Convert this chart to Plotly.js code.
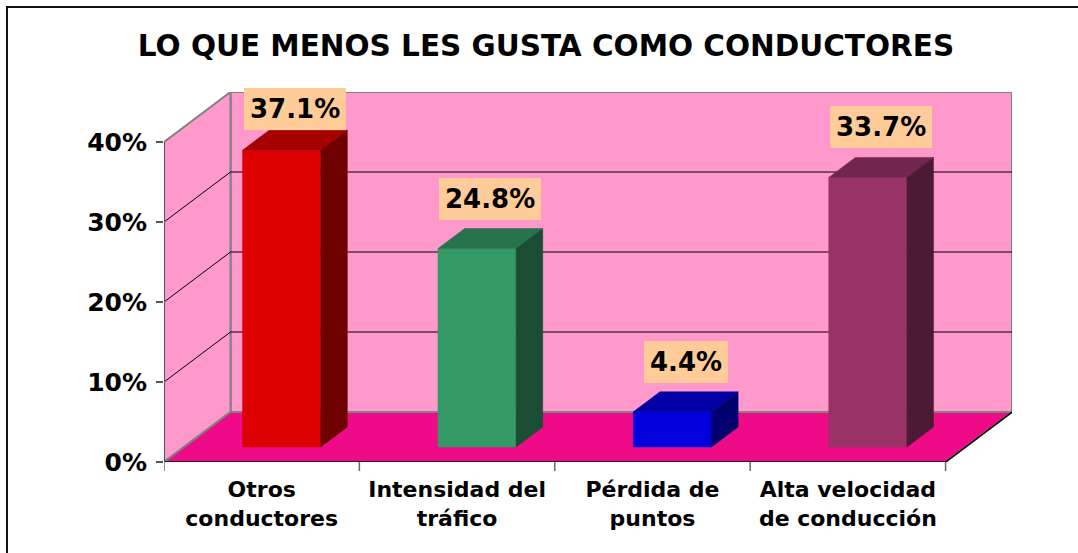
<!DOCTYPE html>
<html>
<head>
<meta charset="utf-8">
<script src="https://cdn.plot.ly/plotly-3.0.1.min.js"></script>
<style>
  html, body { margin: 0; padding: 0; background: #ffffff; }
  #chart { width: 1078px; height: 553px; }
</style>
</head>
<body>
<div id="chart"></div>
<script>
// ---- data ----
const categories = ['Otros<br>conductores', 'Intensidad del<br>tráfico', 'Pérdida de<br>puntos', 'Alta velocidad<br>de conducción'];
const values = [37.1, 24.8, 4.4, 33.7];
const valueLabels = ['37.1%', '24.8%', '4.4%', '33.7%'];
const yTickVals = [0, 10, 20, 30, 40];
const yTickText = ['0%', '10%', '20%', '30%', '40%'];
const frontColors = ['#DD0000', '#339966', '#0000DD', '#993366'];
const topColors = ['#A60000', '#26734D', '#0000A6', '#73264D'];
const sideColors = ['#6E0000', '#1A4D33', '#00006E', '#4D1A33'];

// ---- geometry (3D projection in axis units) ----
const DX = 0.3404;   // x shift for full depth
const DY = 6.25;     // y shift for full depth
const D0 = 0.3, D1 = 0.7, BW = 0.4;
const XMIN = -0.5, XMAX = 3.84, YMAX = 46.25;
const nCat = categories.length;
const FONT = 'DejaVu Sans, Verdana, sans-serif';

const traces = [];
values.forEach((v, i) => {
  const x0 = i - BW / 2 + D0 * DX, x1 = i + BW / 2 + D0 * DX;
  const y0 = D0 * DY, y1 = v + D0 * DY;
  const ddx = (D1 - D0) * DX, ddy = (D1 - D0) * DY;
  const face = (xs, ys, c) => ({
    type: 'scatter', mode: 'lines', x: xs, y: ys, fill: 'toself',
    fillcolor: c, line: { color: c, width: 0.5 }, hoverinfo: 'skip', showlegend: false
  });
  traces.push(face([x0, x1, x1, x0, x0], [y0, y0, y1, y1, y0], frontColors[i]));
  traces.push(face([x0, x1, x1 + ddx, x0 + ddx, x0], [y1, y1, y1 + ddy, y1 + ddy, y1], topColors[i]));
  traces.push(face([x1, x1 + ddx, x1 + ddx, x1, x1], [y0, y0 + ddy, y1 + ddy, y1, y0], sideColors[i]));
});

const shapes = [];
// back wall
shapes.push({ type: 'rect', xref: 'x', yref: 'y', x0: XMIN + DX, x1: XMAX, y0: DY, y1: 40 + DY,
  fillcolor: '#FF99CC', line: { color: '#808080', width: 2 }, layer: 'below' });
// left wall
shapes.push({ type: 'path', xref: 'x', yref: 'y',
  path: `M ${XMIN},0 L ${XMIN + DX},${DY} L ${XMIN + DX},${40 + DY} L ${XMIN},40 Z`,
  fillcolor: '#FF99CC', line: { color: '#808080', width: 2 }, layer: 'below' });
// floor
shapes.push({ type: 'path', xref: 'x', yref: 'y',
  path: `M ${XMIN},0 L ${XMIN + nCat},0 L ${XMIN + nCat + DX},${DY} L ${XMIN + DX},${DY} Z`,
  fillcolor: '#EF0A88', line: { color: '#808080', width: 2 }, layer: 'below' });
// gridlines
yTickVals.slice(1, -1).forEach(v => {
  shapes.push({ type: 'path', xref: 'x', yref: 'y',
    path: `M ${XMIN},${v} L ${XMIN + DX},${v + DY} L ${XMAX},${v + DY}`,
    line: { color: '#000000', width: 1 }, layer: 'below' });
});
// floor front and right edges
shapes.push({ type: 'path', xref: 'x', yref: 'y',
  path: `M ${XMIN},0 L ${XMIN + nCat},0 L ${XMIN + nCat + DX},${DY}`,
  line: { color: '#000000', width: 1.5 }, layer: 'above' });
// y axis line
shapes.push({ type: 'line', xref: 'x', yref: 'y', x0: XMIN, x1: XMIN, y0: 0, y1: 40,
  line: { color: '#555555', width: 2 }, layer: 'above' });
// category boundary ticks
for (let k = 0; k <= nCat; k++) {
  shapes.push({ type: 'line', xref: 'x', yref: 'paper', x0: XMIN + k, x1: XMIN + k, y0: 0, y1: -9 / 370,
    line: { color: '#666666', width: 1.5 }, layer: 'above' });
}
// outer frame
shapes.push({ type: 'rect', xref: 'paper', yref: 'paper',
  x0: (7 - 164) / 848, x1: (1095 - 164) / 848, y0: (462 - 570) / 370, y1: (462 - 7) / 370,
  line: { color: '#111111', width: 2 }, fillcolor: 'rgba(0,0,0,0)' });

const annotations = values.map((v, i) => ({
  xref: 'x', yref: 'y',
  x: i + ((D0 + D1) / 2) * DX,
  y: Math.min(v + D1 * DY + 3.75, 44.1),
  text: valueLabels[i], showarrow: false,
  font: { family: FONT, size: 26, weight: 'bold', color: '#000000' },
  bgcolor: '#FFCC99', borderpad: 6, borderwidth: 0,
  xanchor: 'center', yanchor: 'middle'
}));

const layout = {
  width: 1078, height: 553,
  margin: { l: 164, r: 66, t: 92, b: 91, pad: 0 },
  paper_bgcolor: '#FFFFFF', plot_bgcolor: 'rgba(0,0,0,0)',
  showlegend: false,
  title: {
    text: 'LO QUE MENOS LES GUSTA COMO CONDUCTORES',
    font: { family: FONT, size: 29.5, weight: 'bold', color: '#000000' },
    xref: 'container', yref: 'container', x: 546 / 1078, y: 1 - 46 / 553,
    xanchor: 'center', yanchor: 'middle'
  },
  xaxis: {
    range: [XMIN, XMAX], tickmode: 'array', tickvals: categories.map((c, i) => i), ticktext: categories,
    ticks: '', showgrid: false, zeroline: false, showline: false, fixedrange: true,
    tickfont: { family: FONT, size: 22, weight: 'bold', color: '#000000' }, ticklabelstandoff: 12
  },
  yaxis: {
    range: [0, YMAX], tickmode: 'array', tickvals: yTickVals, ticktext: yTickText,
    ticks: 'outside', ticklen: 7, tickwidth: 1.5, tickcolor: '#555555',
    showgrid: false, zeroline: false, showline: false, fixedrange: true,
    tickfont: { family: FONT, size: 25, weight: 'bold', color: '#000000' }, ticklabelstandoff: 4
  },
  shapes: shapes,
  annotations: annotations
};

Plotly.newPlot('chart', traces, layout, { staticPlot: true, displayModeBar: false });
</script>
</body>
</html>
